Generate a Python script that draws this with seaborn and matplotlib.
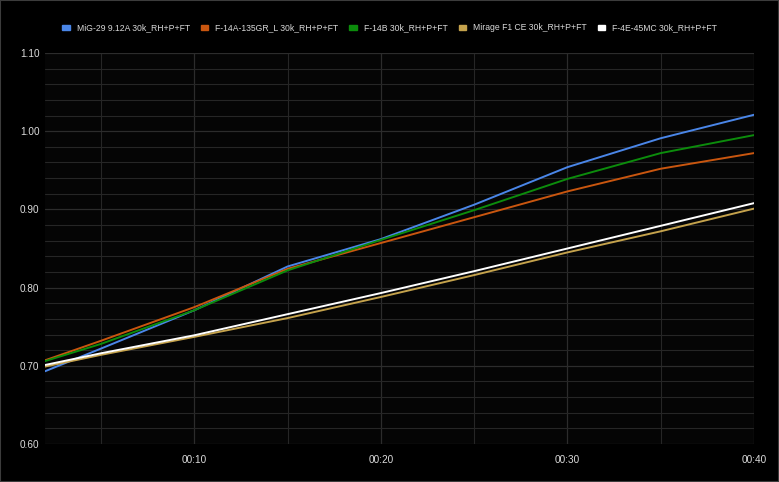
import numpy as np
import pandas as pd
import matplotlib
matplotlib.use("Agg")
import matplotlib.pyplot as plt
import matplotlib.patches as mpatches
from matplotlib.ticker import MultipleLocator, FuncFormatter
import seaborn as sns

# time in seconds
times = [2, 5, 10, 15, 20, 25, 30, 35, 40]

mig29 = [0.693, 0.722, 0.771, 0.827, 0.862, 0.906, 0.954, 0.991, 1.021]
f14a = [0.707, 0.732, 0.775, 0.824, 0.857, 0.890, 0.923, 0.952, 0.972]
f14b = [0.706, 0.728, 0.771, 0.822, 0.861, 0.899, 0.939, 0.972, 0.995]
mirage = [0.699, 0.714, 0.737, 0.761, 0.788, 0.816, 0.845, 0.872, 0.901]
f4e = [0.701, 0.716, 0.739, 0.766, 0.793, 0.821, 0.850, 0.879, 0.908]

series_names = [
    "MiG-29 9.12A 30k_RH+P+FT",
    "F-14A-135GR_L 30k_RH+P+FT",
    "F-14B 30k_RH+P+FT",
    "Mirage F1 CE 30k_RH+P+FT",
    "F-4E-45MC 30k_RH+P+FT",
]
series_values = [mig29, f14a, f14b, mirage, f4e]
colors = ["#4a86e8", "#c9560f", "#0c8c0c", "#c4a24c", "#ffffff"]

rows = []
for name, vals in zip(series_names, series_values):
    for t, v in zip(times, vals):
        rows.append({"time": t, "value": v, "series": name})
df = pd.DataFrame(rows)

sns.set_theme(style="dark")
plt.rcParams["font.family"] = ["Liberation Sans", "DejaVu Sans"]

fig = plt.figure(figsize=(7.79, 4.82), dpi=100, facecolor="black")
ax = fig.add_axes([45 / 779, 38 / 482, 709 / 779, 391 / 482])
ax.set_facecolor("#050505")

sns.lineplot(data=df, x="time", y="value", hue="series", palette=colors,
             hue_order=series_names, linewidth=1.4, legend=False, ax=ax)

ax.set_xlim(2, 40)
ax.set_ylim(0.60, 1.10)
ax.xaxis.set_major_locator(MultipleLocator(10))
ax.xaxis.set_minor_locator(MultipleLocator(5))
ax.yaxis.set_major_locator(MultipleLocator(0.1))
ax.yaxis.set_minor_locator(MultipleLocator(0.02))
ax.xaxis.set_major_formatter(FuncFormatter(lambda v, p: f"00:{int(v):02d}"))
ax.yaxis.set_major_formatter(FuncFormatter(lambda v, p: f"{v:.2f}"))

grid_col = "#262626"
ax.grid(True, which="major", color="#2c2c2c", linewidth=0.9)
ax.grid(True, which="minor", color=grid_col, linewidth=0.8)
ax.set_axisbelow(True)
for s in ax.spines.values():
    s.set_visible(False)
ax.tick_params(axis="y", which="major", length=4, color="#2c2c2c", width=0.9,
               labelsize=7.2, labelcolor="#dcdcdc", pad=0)
ax.tick_params(axis="y", which="minor", length=0)
ax.tick_params(axis="x", which="both", length=0, labelsize=7.2,
               labelcolor="#dcdcdc", pad=8)
ax.set_xlabel("")
ax.set_ylabel("")

handles = [mpatches.Patch(color=c, label=n) for c, n in zip(colors, series_names)]
fig.legend(handles=handles, loc="center", bbox_to_anchor=(0.5, 1 - 28 / 482),
           ncol=5, frameon=False, fontsize=6.2, labelcolor="#d8d8d8",
           handlelength=0.85, handleheight=0.5, handletextpad=0.8,
           columnspacing=1.3)

fig.patches.append(mpatches.Rectangle((0, 0), 1, 1, transform=fig.transFigure,
                                      fill=False, edgecolor="#3c3c3c",
                                      linewidth=1.5))

fig.savefig("out.png", dpi=100, facecolor="black")
